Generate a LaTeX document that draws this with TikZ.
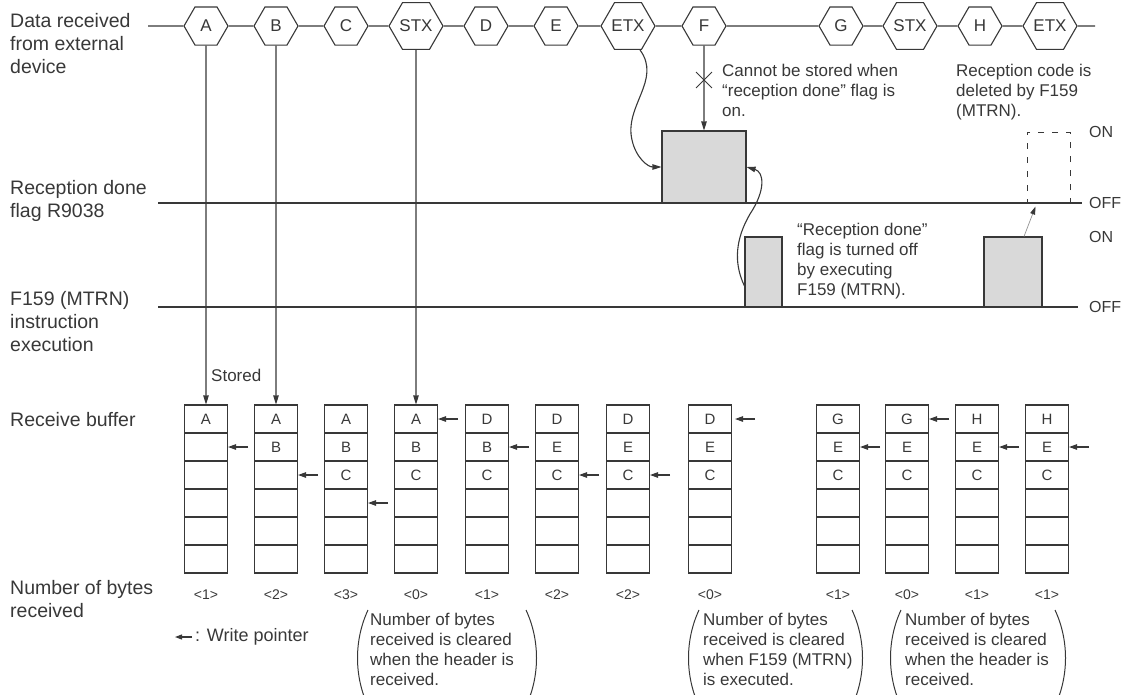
\documentclass[tikz,border=0pt]{standalone}
\usepackage{fontspec}
\setmainfont{Liberation Sans}
\usetikzlibrary{arrows.meta,shapes.geometric,shapes.misc,calc}
\definecolor{ink}{HTML}{383838}
\definecolor{pulsefill}{HTML}{D9D9D9}
\tikzset{
  ln/.style={draw=ink, line width=1.1pt},
  hexa/.style={regular polygon, regular polygon sides=6, minimum size=44pt, inner sep=0pt,
    draw=ink, line width=1.1pt, fill=white, text=ink, font=\fontsize{17}{20}\selectfont},
  cell/.style={draw=ink, line width=1.1pt, minimum width=43pt, minimum height=28pt, inner sep=0pt,
    text=ink, font=\fontsize{15}{18}\selectfont},
  arr/.style={ln, -{Triangle[length=9pt,width=5.5pt]}},
  ptr/.style={ln, -{Triangle[length=8pt,width=5.5pt]}},
  lbl/.style={anchor=north west, align=left, inner sep=0pt, text=ink, font=\fontsize{19.5}{23}\selectfont},
  note/.style={anchor=north west, align=left, inner sep=0pt, text=ink, font=\fontsize{17}{20}\selectfont},
  cnt/.style={inner sep=0pt, text=ink, font=\fontsize{14}{16}\selectfont},
  pulse/.style={draw=ink, line width=1.1pt, fill=pulsefill, inner sep=0pt},
  onoff/.style={anchor=west, inner sep=0pt, text=ink, font=\fontsize{16}{18}\selectfont},
  paren/.style={draw=ink, line width=1pt},
}
\begin{document}
\begin{tikzpicture}[x=1pt,y=-1pt]
\useasboundingbox (0,0) rectangle (1133,694);
\clip (0,0) rectangle (1133,694);

% left labels
\node[lbl] (l1) at (10,13) {Data received\\from external\\device};
\node[lbl] (l2) at (10,180) {Reception done\\flag R9038};
\node[lbl] (l3) at (10,291) {F159 (MTRN)\\instruction\\execution};
\node[lbl] (l4) at (10,412) {Receive buffer};
\node[lbl] (l5) at (10,580) {Number of bytes\\received};

% data line with hexagons
\foreach \n/\x/\t in {1/206/A,2/276/B,3/346/C,4/416/STX,5/486/D,6/556/E,7/628/ETX,8/704/F,9/841/G,10/910/STX,11/980/H,12/1050/ETX}
  \node[hexa] (h\n) at (\x,26) {\t};
\coordinate (ds) at (148,26);
\coordinate (de) at (1095,26);
\draw[ln] (ds) -- (h1) -- (h2) -- (h3) -- (h4) -- (h5) -- (h6) -- (h7) -- (h8) -- (h9) -- (h10) -- (h11) -- (h12) -- (de);

% base lines
\coordinate (fs) at (158,203); \coordinate (fe) at (1082,203);
\coordinate (ms) at (158,307); \coordinate (me) at (1078,307);
\draw[ln] (fs) -- (fe);
\draw[ln] (ms) -- (me);

% pulses
\node[pulse, minimum width=84pt, minimum height=72pt] (fp) at (704,167) {};
\node[pulse, minimum width=37pt, minimum height=70pt] (p1) at (763.5,272) {};
\node[pulse, minimum width=58pt, minimum height=70pt] (p2) at (1013,272) {};
\node[draw=ink, line width=1pt, dash pattern=on 6pt off 8pt, minimum width=43pt, minimum height=71pt, inner sep=0pt] (db) at (1048.5,167.5) {};

% ON / OFF
\node[onoff] (on1) at (1089,132) {ON};
\node[onoff] (off1) at (1089,203) {OFF};
\node[onoff] (on2) at (1089,237) {ON};
\node[onoff] (off2) at (1089,307) {OFF};

% buffer columns
\foreach \k/\x/\a/\b/\c/\p/\g/\n in {
  1/206/A/{}/{}/2/0/1,
  2/276/A/B/{}/3/0/2,
  3/346/A/B/C/4/0/3,
  4/416/A/B/C/1/0/0,
  5/487/D/B/C/2/0/1,
  6/557/D/E/C/3/0/2,
  7/628/D/E/C/3/0/2,
  8/710/D/E/C/1/3/0,
  9/838/G/E/C/2/0/1,
  10/907/G/E/C/1/0/0,
  11/977/H/E/C/2/0/1,
  12/1047/H/E/C/2/0/1}{
  \node[cell] (c\k-1) at (\x,419) {\a};
  \node[cell] (c\k-2) at (\x,447) {\b};
  \node[cell] (c\k-3) at (\x,475) {\c};
  \node[cell] (c\k-4) at (\x,503) {};
  \node[cell] (c\k-5) at (\x,531) {};
  \node[cell] (c\k-6) at (\x,559) {};
  \draw[ptr] ($(c\k-\p.east)+({20+\g},0)$) -- ($(c\k-\p.east)+(\g,0)$);
  \node[cnt] (cnt\k) at (\x,595) {<\n>};
}

% storage arrows
\draw[arr] (h1) -- (c1-1);
\draw[arr] (h2) -- (c2-1);
\draw[arr] (h4) -- (c4-1);
\node[note, anchor=west] (st) at (211,375) {Stored};

% F blocked
\draw[arr] (h8) -- (fp);
\node[cross out, draw=ink, line width=0.9pt, minimum size=15pt, inner sep=0pt] (xm) at (704,80) {};
\node[note] (t1) at (722,64) {Cannot be stored when\\``reception done'' flag is\\on.};
\node[note] (t2) at (956,64) {Reception code is\\deleted by F159\\(MTRN).};
\node[note] (t3) at (797,223) {``Reception done''\\flag is turned off\\by executing\\F159 (MTRN).};

% curves
\draw[arr] ($(h7.south)+(12,0)$) .. controls (662,80) and (624,106) .. (632,140)
  .. controls (636,158) and (648,167) .. (fp.west);
\draw[arr] ($(p1.west)+(0,14)$) .. controls (733,262) and (736,238) .. (750,214)
  .. controls (766,190) and (764,172) .. (fp.east);
\draw[draw=ink!55, line width=0.7pt, -{Triangle[length=8pt,width=5pt,color=ink]}]
  ($(p2.north)+(11,0)$) -- ($(db.south west)+(9,3)$);

% legend
\node[note, anchor=west, font=\fontsize{18}{20}\selectfont] (wp) at (195,637) {: Write pointer};
\draw[ptr, -{Triangle[length=7pt,width=5pt]}] ($(wp.west)+(-3,0)$) -- ($(wp.west)+(-20,0)$);

% notes with parentheses
\node[note] (n1) at (370,613) {Number of bytes\\received is cleared\\when the header is\\received.};
\node[note] (n2) at (703,613) {Number of bytes\\received is cleared\\when F159 (MTRN)\\is executed.};
\node[note] (n3) at (905,613) {Number of bytes\\received is cleared\\when the header is\\received.};
\draw[paren] (368,610) .. controls (354,640) and (354,676) .. (368,706);
\draw[paren] (526,610) .. controls (540,640) and (540,676) .. (526,706);
\draw[paren] (699,610) .. controls (685,640) and (685,676) .. (699,706);
\draw[paren] (852,610) .. controls (866,640) and (866,676) .. (852,706);
\draw[paren] (901,610) .. controls (887,640) and (887,676) .. (901,706);
\draw[paren] (1055,610) .. controls (1069,640) and (1069,676) .. (1055,706);
\end{tikzpicture}
\end{document}
